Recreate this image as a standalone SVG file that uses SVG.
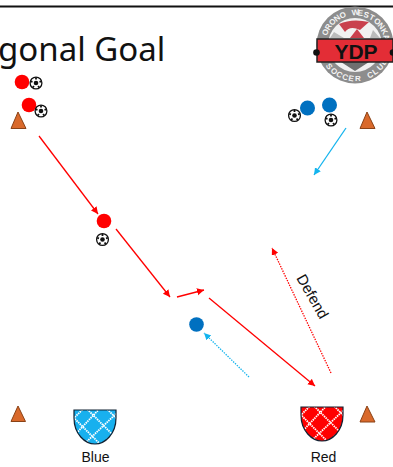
<svg xmlns="http://www.w3.org/2000/svg" xmlns:xlink="http://www.w3.org/1999/xlink" width="393" height="467" viewBox="0 0 393 467">
<style>
text{font-family:"Noto Sans","Liberation Sans",sans-serif;fill:#111}
.lbl{font-size:14px;text-anchor:middle;font-family:"Liberation Sans",sans-serif}
.cone{fill:#d9692b;stroke:#8a4216;stroke-width:1}
.r{fill:#f00}.b{fill:#0070c0}
.lr{stroke:#f00;stroke-width:1.3;fill:none}
.lb{stroke:#14b4ee;stroke-width:1.3;fill:none}
.dot{stroke-dasharray:1.4 1.2}
.net{stroke:#fff;stroke-width:1.8;stroke-dasharray:1.5 .8;fill:none}
.ring{font-size:8px;font-weight:700;fill:#f4f4f4;font-family:"Liberation Sans",sans-serif}
</style>
<defs>
<marker id="ar" markerUnits="userSpaceOnUse" markerWidth="8" markerHeight="8" refX="7" refY="3.5" orient="auto"><path d="M0 0L7 3.5L0 7Z" fill="#f00"/></marker>
<marker id="ab" markerUnits="userSpaceOnUse" markerWidth="8" markerHeight="8" refX="7" refY="3.5" orient="auto"><path d="M0 0L7 3.5L0 7Z" fill="#14b4ee"/></marker>
<g id="ball"><circle r="5.9" fill="#fff" stroke="#111" stroke-width="1.3"/><circle r="2.300" fill="#111"/><path d="M0-5.500V-3.500M5.200-1.700L3.500-1.200M-5.200-1.700L-3.500-1.200M3.200 4.500L2.100 2.900M-3.200 4.500L-2.100 2.900" stroke="#111" stroke-width="1.800"/></g>
<path id="cup" d="M0 0H42V8C42 24 31 34 21 34C11 34 0 24 0 8Z"/>
<clipPath id="cupc"><use xlink:href="#cup"/></clipPath>
</defs>
<rect width="393" height="467" fill="#fff"/>
<path d="M0 6.500H393" stroke="#111" stroke-width="2"/>
<text id="title" x="-2" y="61" font-size="33">gonal Goal</text>
<g id="logo">
<circle cx="355" cy="45" r="38.500" fill="#8d8d8d"/>
<circle cx="355" cy="45" r="27" fill="#f1f1f1"/>
<path d="M339 24Q352 18 369 22L360 30Q350 25 345 32ZM357 29L364 38H350Z" fill="#c9404d"/>
<path d="M334 32L344 38H330ZM373 30L380 38H370Z" fill="#bbb"/>
<path d="M341 62L355 59L369 62L355 71Z" fill="#6f6f6f"/>
<text class="ring" x="326.900 329.200 332.400 336.400 341.200 346.400 351.900 357.600 363.100 368.400 373.200 377.300 380.500 382.900" y="35.900 30.700 26 22.100 19 16.800 15.600 15.600 16.700 18.700 21.800 25.600 30.300 35.400" rotate="-72 -61 -50 -39 -28 -17 -6 5 16 27 38 49 60 71">ORONO WESTONKA</text>
<text class="ring" x="325.500 330 335.400 341.500 348.100 355 361.900 368.500 374.600 380 384.500" y="65.700 70.900 75.200 78.400 80.400 81 80.400 78.400 75.200 70.900 65.700" rotate="55 44 33 22 11 0 -11 -22 -33 -44 -55">SOCCER CLUB</text>
<rect x="317" y="39" width="76" height="23" fill="#e32d36" stroke="#222" stroke-width="1.500"/>
<circle cx="316.500" cy="52.500" r="3.300" fill="#111"/><circle cx="393" cy="52.500" r="3.300" fill="#111"/>
<text x="356" y="58.500" font-size="21" font-weight="700" text-anchor="middle" style='font-family:"Liberation Sans",sans-serif'>YDP</text>
</g>
<g id="connectors">
<path class="lr" marker-end="url(#ar)" d="M39 136L98 214"/>
<path class="lr" marker-end="url(#ar)" d="M116 229L170 297"/>
<path class="lr" marker-end="url(#ar)" d="M177 297L204 290"/>
<path class="lr" marker-end="url(#ar)" d="M209 298L315 386"/>
<path class="lr dot" marker-end="url(#ar)" d="M331 373L272 248"/>
<path class="lb" marker-end="url(#ab)" d="M346 128L314 175"/>
<path class="lb dot" marker-end="url(#ab)" d="M249 377L204 333"/>
</g>
<g id="label-defend"><text transform="translate(296 278) rotate(60)" font-size="15" style='font-family:"Liberation Sans",sans-serif'>Defend</text></g>
<g id="cone1"><path class="cone" d="M18 112L26 128.500H11Z"/></g>
<g id="cone2"><path class="cone" d="M367 112L375 128.500H360Z"/></g>
<g id="cone3"><path class="cone" d="M18 406L25.500 421.500H11Z"/></g>
<g id="cone4"><path class="cone" d="M367 406L375 422H360Z"/></g>
<g id="red1"><circle class="r" cx="22" cy="82" r="7.300"/><use xlink:href="#ball" x="36" y="83"/></g>
<g id="red2"><circle class="r" cx="29" cy="105" r="7.300"/><use xlink:href="#ball" x="41" y="111"/></g>
<g id="red3"><circle class="r" cx="104" cy="221" r="7.300"/><use xlink:href="#ball" x="102.500" y="239.500"/></g>
<g id="blue1"><circle class="b" cx="307.500" cy="108" r="7.500"/><use xlink:href="#ball" x="294.500" y="115.500"/></g>
<g id="blue2"><circle class="b" cx="329.500" cy="105" r="7.500"/><use xlink:href="#ball" x="331" y="120"/></g>
<g id="blue3"><circle class="b" cx="196.500" cy="324.500" r="7.300"/></g>
<g id="goal-blue">
<g transform="translate(74 410)"><use xlink:href="#cup" fill="#18b0ee"/><g clip-path="url(#cupc)"><path class="net" d="M-4 12L12-4M-4 30L30-6M6 38L46 0M24 38L50 14M-4 4L30 38M10-4L46 32M30-4L50 16"/></g><use xlink:href="#cup" fill="none" stroke="#123" stroke-width="1.200"/></g>
<text class="lbl" x="95.500" y="462">Blue</text>
</g>
<g id="goal-red">
<g transform="translate(301 407)"><use xlink:href="#cup" fill="#f00"/><g clip-path="url(#cupc)"><path class="net" d="M-4 12L12-4M-4 30L30-6M6 38L46 0M24 38L50 14M-4 4L30 38M10-4L46 32M30-4L50 16"/></g><use xlink:href="#cup" fill="none" stroke="#123" stroke-width="1.200"/></g>
<text class="lbl" x="323.500" y="462">Red</text>
</g>
</svg>
